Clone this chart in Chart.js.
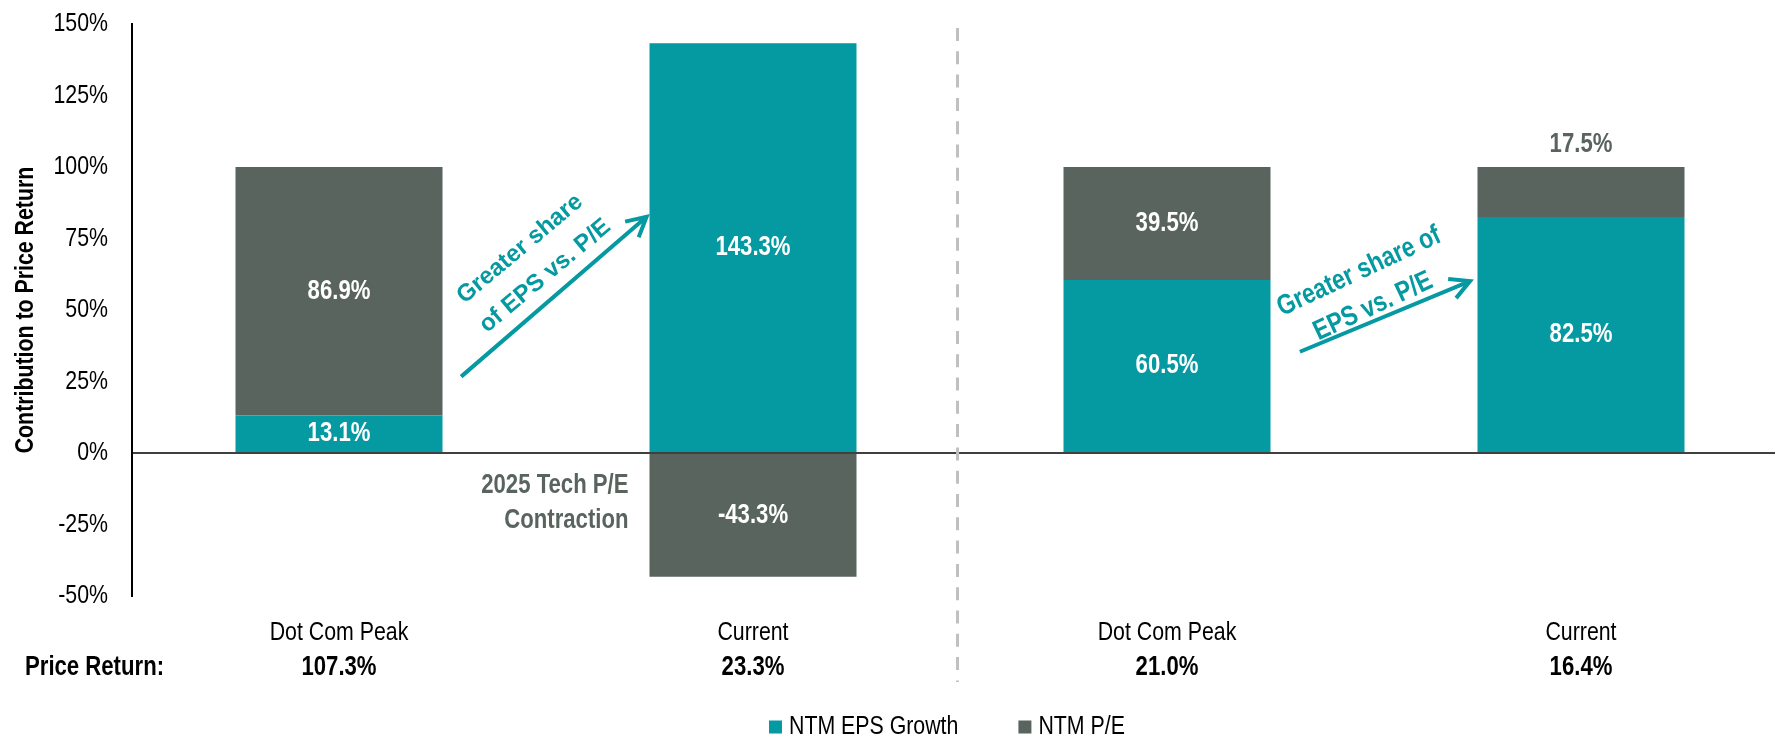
<!DOCTYPE html>
<html>
<head>
<meta charset="utf-8">
<title>Contribution to Price Return</title>
<script src="https://cdn.jsdelivr.net/npm/chart.js@4.4.1/dist/chart.umd.min.js"></script>
<style>
  html, body { margin: 0; padding: 0; background: #fff; overflow: hidden; }
  #wrap { position: relative; width: 1775px; height: 737px; overflow: hidden; }
  #chart { position: absolute; left: 0; top: 0; }
</style>
</head>
<body>
<div id="wrap">
  <canvas id="chart" width="1788" height="737"></canvas>
</div>
<script>
// data
const categories = ['Dot Com Peak', 'Current', 'Dot Com Peak', 'Current'];
const epsGrowth = [13.1, 143.3, 60.5, 82.5];
const peChange = [86.9, -43.3, 39.5, 17.5];
const priceReturn = [107.3, 23.3, 21.0, 16.4];
const yTickValues = [-50, -25, 0, 25, 50, 75, 100, 125, 150];

const NARROW = "'Liberation Sans Narrow', 'Liberation Sans', Arial, sans-serif";
const ARIAL = "'Liberation Sans', Arial, sans-serif";
const TEAL = '#0599a1';
const GRAY = '#59645f';

// the 17.5% label sits above its bar instead of inside
const labelAbove = { dataset: 1, index: 3 };

// no Arial Narrow installed: squeeze Liberation Sans sideways for the "Narrow" fonts
const SQUEEZE = 0.82;
function patchNarrow(ctx) {
    const fill = ctx.fillText;
    const measure = ctx.measureText;
    ctx.fillText = function (text, x, y, maxWidth) {
        if (!this.font.includes('Narrow')) return fill.call(this, text, x, y, maxWidth);
        this.save();
        this.translate(x, y);
        this.scale(SQUEEZE, 1);
        fill.call(this, text, 0, 0);
        this.restore();
    };
    ctx.measureText = function (text) {
        const m = measure.call(this, text);
        if (!this.font.includes('Narrow')) return m;
        return {
            width: m.width * SQUEEZE,
            actualBoundingBoxAscent: m.actualBoundingBoxAscent,
            actualBoundingBoxDescent: m.actualBoundingBoxDescent
        };
    };
}

// category index (fractional) -> pixel
function catX(chart, i) {
    const x = chart.scales.x;
    const x0 = x.getPixelForValue(0);
    const x1 = x.getPixelForValue(1);
    return x0 + i * (x1 - x0);
}

function drawArrow(ctx, x1, y1, x2, y2) {
    const ang = Math.atan2(y2 - y1, x2 - x1);
    const head = 22, spread = 0.49;
    ctx.beginPath();
    ctx.moveTo(x1, y1);
    ctx.lineTo(x2, y2);
    ctx.moveTo(x2 - head * Math.cos(ang - spread), y2 - head * Math.sin(ang - spread));
    ctx.lineTo(x2, y2);
    ctx.lineTo(x2 - head * Math.cos(ang + spread), y2 - head * Math.sin(ang + spread));
    ctx.stroke();
}

function rotatedText(ctx, text, x, y, deg) {
    ctx.save();
    ctx.translate(x, y);
    ctx.rotate(deg * Math.PI / 180);
    ctx.fillText(text, 0, 0);
    ctx.restore();
}

const barLabels = {
    id: 'barLabels',
    afterDatasetsDraw(chart) {
        const ctx = chart.ctx;
        ctx.save();
        ctx.font = `bold 27px ${NARROW}`;
        ctx.textAlign = 'center';
        ctx.textBaseline = 'middle';
        chart.data.datasets.forEach((ds, di) => {
            chart.getDatasetMeta(di).data.forEach((bar, i) => {
                const text = ds.data[i].toFixed(1) + '%';
                if (di === labelAbove.dataset && i === labelAbove.index) {
                    ctx.fillStyle = GRAY;
                    ctx.fillText(text, bar.x, Math.min(bar.y, bar.base) - 22);
                } else {
                    ctx.fillStyle = '#fff';
                    ctx.fillText(text, bar.x, (bar.y + bar.base) / 2);
                }
            });
        });
        ctx.restore();
    }
};

const extras = {
    id: 'extras',
    afterDraw(chart) {
        const ctx = chart.ctx;
        const y = chart.scales.y;
        const area = chart.chartArea;
        ctx.save();

        // dashed divider between the two panels
        const dx = catX(chart, 1.494);
        ctx.strokeStyle = '#c0c0c0';
        ctx.lineWidth = 3;
        ctx.setLineDash([13, 10.3]);
        ctx.beginPath();
        ctx.moveTo(dx, area.top + 4);
        ctx.lineTo(dx, area.bottom + 86);
        ctx.stroke();
        ctx.setLineDash([]);

        // price return row
        ctx.fillStyle = '#000';
        ctx.font = `bold 27px ${NARROW}`;
        ctx.textBaseline = 'middle';
        ctx.textAlign = 'left';
        ctx.fillText('Price Return:', 25, area.bottom + 72);
        ctx.textAlign = 'center';
        priceReturn.forEach((v, i) => {
            ctx.fillText(v.toFixed(1) + '%', catX(chart, i), area.bottom + 72);
        });

        // P/E contraction note
        ctx.fillStyle = GRAY;
        ctx.textAlign = 'right';
        const bar = chart.getDatasetMeta(1).data[1];
        const noteX = bar.x - bar.width / 2 - 21;
        ctx.fillText('2025 Tech P/E', noteX, y.getPixelForValue(-11.3));
        ctx.fillText('Contraction', noteX, y.getPixelForValue(-23.5));

        // arrows
        ctx.strokeStyle = TEAL;
        ctx.fillStyle = TEAL;
        ctx.lineWidth = 4;
        ctx.lineJoin = 'miter';
        drawArrow(ctx, catX(chart, 0.295), y.getPixelForValue(26.7),
                       catX(chart, 0.743), y.getPixelForValue(82.6));
        drawArrow(ctx, catX(chart, 2.321), y.getPixelForValue(35.4),
                       catX(chart, 2.732), y.getPixelForValue(60.1));

        ctx.textAlign = 'center';
        ctx.font = `bold 24px ${ARIAL}`;
        rotatedText(ctx, 'Greater share', catX(chart, 0.437), y.getPixelForValue(71.3), -40);
        rotatedText(ctx, 'of EPS vs. P/E', catX(chart, 0.498), y.getPixelForValue(61.9), -40);
        ctx.font = `bold 28px ${NARROW}`;
        rotatedText(ctx, 'Greater share of', catX(chart, 2.464), y.getPixelForValue(63.4), -25);
        rotatedText(ctx, 'EPS vs. P/E', catX(chart, 2.498), y.getPixelForValue(51.2), -25);

        // legend
        ctx.font = `26px ${NARROW}`;
        ctx.textAlign = 'left';
        let lx = 769;
        const ly = area.bottom + 131;
        chart.data.datasets.forEach(ds => {
            ctx.fillStyle = ds.backgroundColor;
            ctx.fillRect(lx, ly - 6.5, 13, 13);
            lx += 20;
            ctx.fillStyle = '#000';
            ctx.fillText(ds.label, lx, ly);
            lx += ctx.measureText(ds.label).width + 60;
        });

        ctx.restore();
    }
};

const canvas = document.getElementById('chart');
patchNarrow(canvas.getContext('2d'));

const chart = new Chart(canvas, {
    type: 'bar',
    data: {
        labels: categories,
        datasets: [
            { label: 'NTM EPS Growth', data: epsGrowth, backgroundColor: TEAL },
            { label: 'NTM P/E', data: peChange, backgroundColor: GRAY }
        ]
    },
    options: {
        responsive: false,
        animation: false,
        devicePixelRatio: 1,
        layout: { padding: { top: 24, left: 0, right: 0, bottom: 0 } },
        datasets: { bar: { categoryPercentage: 1, barPercentage: 0.5 } },
        plugins: {
            legend: { display: false },
            tooltip: { enabled: false }
        },
        scales: {
            x: {
                stacked: true,
                grid: { display: false },
                border: { display: false },
                ticks: { color: '#000', font: { family: NARROW, size: 26 }, padding: 13 },
                afterFit(scale) { scale.height = 141; }
            },
            y: {
                stacked: true,
                min: -50,
                max: 150,
                z: 1,
                afterBuildTicks(scale) { scale.ticks = yTickValues.map(v => ({ value: v })); },
                afterFit(scale) { scale.width = 132; },
                ticks: {
                    color: '#000',
                    font: { family: NARROW, size: 26 },
                    padding: 4,
                    callback: v => v + '%'
                },
                grid: {
                    drawTicks: true,
                    tickLength: 20,
                    tickColor: 'rgba(0,0,0,0)',
                    lineWidth: 2,
                    color: c => (c.tick && c.tick.value === 0) ? '#404040' : 'rgba(0,0,0,0)'
                },
                border: { display: true, color: '#000', width: 2 },
                title: {
                    display: true,
                    text: 'Contribution to Price Return',
                    color: '#000',
                    font: { family: NARROW, size: 26, weight: 'bold' },
                    padding: { top: 10, bottom: 0 }
                }
            }
        }
    },
    plugins: [barLabels, extras]
});
</script>
</body>
</html>
